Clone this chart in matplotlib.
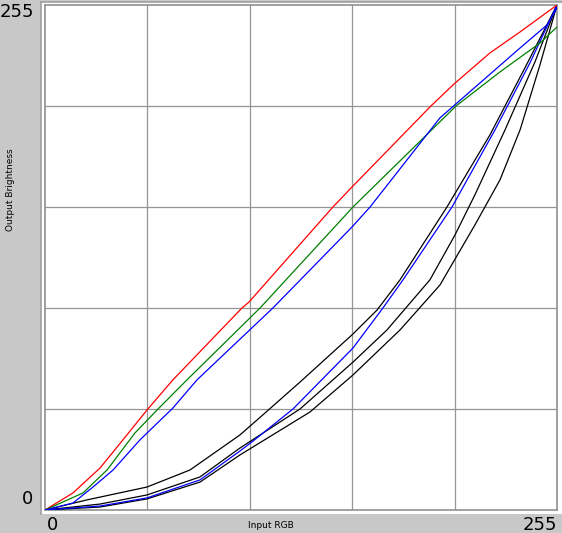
import matplotlib
matplotlib.use("Agg")
import matplotlib.pyplot as plt

# ---- data (0..255 scale) ----
red_x = [0, 13.9, 27.4, 38.8, 50.8, 63.7, 98.1, 101.6, 143.4, 152.9, 192.2, 203.7, 221.6, 236.6, 255]
red_y = [0, 8.6, 21.2, 35.4, 50.5, 65.7, 102.0, 105.0, 153.0, 163.1, 204.0, 215.1, 230.8, 241.4, 255]

green_x = [0, 11.0, 18.9, 30.9, 44.8, 56.3, 70.7, 107.1, 153.4, 204.7, 226.6, 246.5, 255]
green_y = [0, 5.0, 8.6, 20.2, 38.9, 51.0, 65.7, 102.0, 153.0, 204.0, 221.2, 235.8, 243.9]

blue_x = [0, 13.9, 23.9, 33.9, 47.3, 63.7, 75.7, 113.5, 152.9, 161.9, 196.7, 216.6, 236.6, 250.0, 255]
blue_y = [0, 3.5, 11.6, 20.2, 35.4, 51.5, 65.7, 102.0, 142.9, 153.0, 198.0, 215.6, 233.3, 244.9, 253.5]

blue2_x = [0, 27.4, 50.8, 77.2, 97.1, 103.6, 123.5, 153.4, 168.3, 178.3, 202.7, 224.1, 241.5, 255]
blue2_y = [0, 2.0, 6.1, 15.2, 29.8, 34.8, 51.0, 81.8, 102.0, 116.2, 153.0, 191.9, 225.7, 255]

black1_x = [0, 20.9, 50.8, 72.2, 97.1, 109.6, 127.0, 153.4, 165.4, 176.8, 200.2, 221.6, 239.0, 255]
black1_y = [0, 5.1, 11.6, 20.2, 37.9, 49.0, 64.6, 88.9, 101.0, 116.2, 153.0, 189.4, 223.2, 255]

black2_x = [0, 27.4, 50.8, 77.2, 97.1, 127.0, 153.4, 170.3, 191.7, 204.2, 214.1, 229.1, 244.0, 255]
black2_y = [0, 3.0, 7.6, 16.7, 31.3, 51.0, 74.7, 90.9, 116.2, 138.9, 159.1, 191.9, 226.2, 255]

black3_x = [0, 27.4, 50.8, 77.2, 97.1, 132.0, 153.4, 176.8, 196.7, 214.1, 226.6, 236.6, 246.5, 255]
black3_y = [0, 1.5, 5.6, 14.1, 27.8, 49.5, 68.2, 90.9, 113.6, 143.9, 166.7, 191.9, 224.7, 255]

grid_vals = [51, 102, 153, 204]

W, H = 562, 533
fig = plt.figure(figsize=(W / 100, H / 100), dpi=100, facecolor="#c8c8c8")

# white panel behind plot with gray outer line on left/top
bg = fig.add_axes([41 / W, (H - 514) / H, (W - 41) / W, (514 - 2) / H], zorder=0)
bg.set_facecolor("white")
bg.set_xticks([])
bg.set_yticks([])
for k, s in bg.spines.items():
    if k in ("left", "top"):
        s.set_color("#a0a0a0")
        s.set_linewidth(1.2)
    else:
        s.set_visible(False)

ax = fig.add_axes([45 / W, (H - 510) / H, (557 - 45) / W, (510 - 5) / H], zorder=1)
ax.set_xlim(0, 255)
ax.set_ylim(0, 255)
ax.set_facecolor("white")
for s in ax.spines.values():
    s.set_color("#909090")
    s.set_linewidth(1.2)
ax.set_xticks([])
ax.set_yticks([])
for g in grid_vals:
    ax.axvline(g, color="#959595", lw=0.9, zorder=1)
    ax.axhline(g, color="#959595", lw=0.9, zorder=1)

lw = 0.9
ax.plot(black1_x, black1_y, color="black", lw=lw, zorder=3)
ax.plot(black2_x, black2_y, color="black", lw=lw, zorder=3)
ax.plot(black3_x, black3_y, color="black", lw=lw, zorder=3)
ax.plot(blue2_x, blue2_y, color="#0000ff", lw=lw, zorder=4)
ax.plot(red_x, red_y, color="#ff0000", lw=lw, zorder=4)
ax.plot(green_x, green_y, color="#008000", lw=lw, zorder=4)
ax.plot(blue_x, blue_y, color="#0000ff", lw=lw, zorder=4)

def ftext(px, py, s, **kw):
    fig.text(px / W, 1 - py / H, s, **kw)

ftext(0, 12, "255", fontsize=13, ha="left", va="center")
ftext(33, 499, "0", fontsize=13, ha="right", va="center")
ftext(47, 525, "0", fontsize=13, ha="left", va="center")
ftext(557, 525, "255", fontsize=13, ha="right", va="center")
ftext(11, 190, "Output Brightness", fontsize=6.5, rotation=90, ha="center", va="center")
ftext(271, 525, "Input RGB", fontsize=6.5, ha="center", va="center")

fig.savefig("out.png", dpi=100, facecolor=fig.get_facecolor())
